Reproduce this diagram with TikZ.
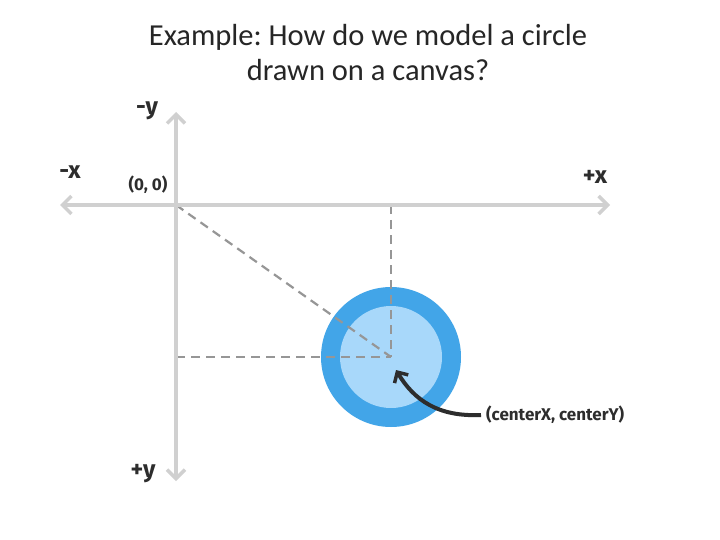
\documentclass[tikz,border=0pt]{standalone}
\usepackage{fontspec}
\setmainfont{Carlito}
\newfontfamily\lblfont{Fira Sans}
\usetikzlibrary{arrows.meta}
\frenchspacing
\definecolor{axisgray}{RGB}{208,208,208}
\definecolor{dashgray}{RGB}{150,150,150}
\definecolor{outerblue}{RGB}{66,165,232}
\definecolor{innerblue}{RGB}{168,216,250}
\definecolor{darkink}{RGB}{45,45,45}
\tikzset{
  axis/.style={draw=axisgray, line width=4pt, -{Straight Barb[length=9pt,width=18pt,line width=3.5pt]}},
  guide/.style={draw=dashgray, line width=2.2pt, dash pattern=on 9pt off 6pt},
  lbl/.style={font=\lblfont\bfseries\fontsize{24}{26}\selectfont, text=darkink, inner sep=0pt},
  small/.style={font=\lblfont\bfseries\fontsize{17}{19}\selectfont, text=darkink, inner sep=0pt},
  title/.style={font=\frenchspacing\fontsize{30.5}{35}\selectfont, text=black!85, align=center, inner sep=0pt}
}
\begin{document}
\begin{tikzpicture}[x=1pt,y=-1pt]
\useasboundingbox (0,0) rectangle (720,540);
\fill[white] (0,0) rectangle (720,540);
\node[title] (t) at (368,53) {Example: How do we model a circle\\drawn on a canvas?};
\coordinate (o) at (176,205);
\coordinate (c) at (391,357);
\coordinate (xl) at (60,205);
\coordinate (xr) at (610,205);
\coordinate (yt) at (176,112);
\coordinate (yb) at (176,481);
\coordinate (cx) at (391,205);
\coordinate (cy) at (176,357);
% circle
\fill[outerblue] (c) circle[radius=70];
\fill[innerblue] (c) circle[radius=51];
% guides
\draw[guide] (o) -- (c);
\draw[guide] (cx) -- (c);
\draw[guide] (cy) -- (c);
% axes
\draw[axis] (o) -- (xl);
\draw[axis] (o) -- (xr);
\draw[axis] (o) -- (yt);
\draw[axis] (o) -- (yb);
% labels
\node[lbl] (my) at (147,111) {-y};
\node[lbl] (mx) at (70,172) {-x};
\node[lbl] (px) at (595,177) {+x};
\node[lbl] (py) at (143,474) {+y};
\node[small] (org) at (148,185) {(0, 0)};
\node[small, anchor=west] (cl) at (486,415) {(centerX, centerY)};
\coordinate (tip) at (396,370);
\draw[darkink, line width=4pt, -{Straight Barb[length=8pt,width=16pt,line width=3.5pt]}]
  ([xshift=-5pt]cl.west) .. controls (438,417) and (414,400) .. (tip);
\end{tikzpicture}
\end{document}
